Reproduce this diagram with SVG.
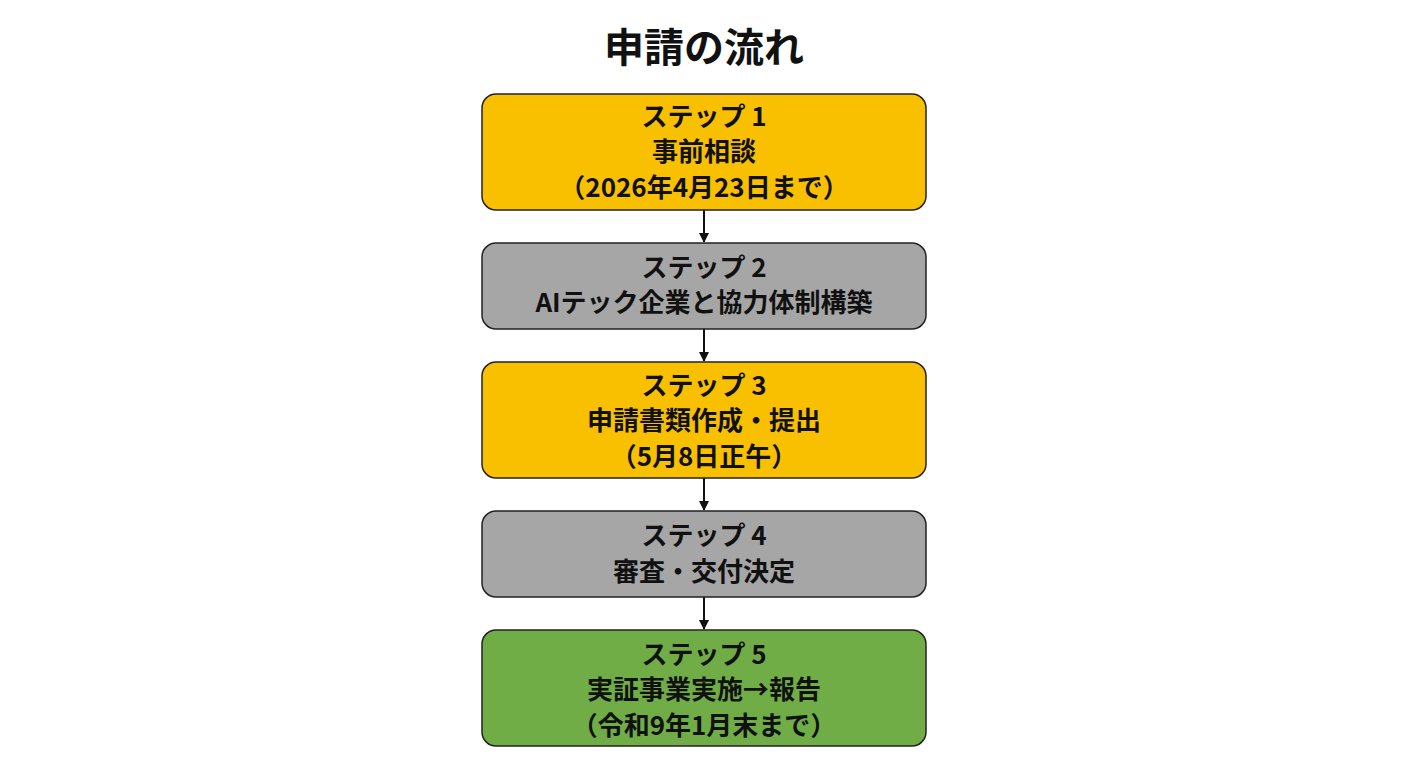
<svg xmlns="http://www.w3.org/2000/svg" width="1408" height="768" viewBox="0 0 1408 768">
<defs>
<marker id="ah" markerWidth="10" markerHeight="10" refX="9" refY="5" orient="auto" markerUnits="userSpaceOnUse"><path d="M0,0 L10,5 L0,10 Z" fill="#111"/></marker>
<style>
text{font-family:"Noto Sans CJK JP","Noto Sans",sans-serif;font-weight:bold;fill:#111;text-anchor:middle}
.t{font-size:26px}
.h{font-size:40px}
rect{stroke:#222;stroke-width:1.5}
.y{fill:#F9C000}.g{fill:#A6A6A6}.gr{fill:#70AD47}
.c{stroke:#111;stroke-width:2;fill:none}
</style>
</defs>
<rect x="0" y="0" width="1408" height="768" fill="#fff" style="stroke:none"/>
<text class="h" x="704" y="62">申請の流れ</text>
<g id="connectors">
<line class="c" x1="704" y1="210" x2="704" y2="242" marker-end="url(#ah)"/>
<line class="c" x1="704" y1="329" x2="704" y2="361" marker-end="url(#ah)"/>
<line class="c" x1="704" y1="478" x2="704" y2="510" marker-end="url(#ah)"/>
<line class="c" x1="704" y1="597" x2="704" y2="629" marker-end="url(#ah)"/>
</g>
<g id="step1"><rect class="y" x="482" y="94" width="444" height="116" rx="14"/>
<text class="t" x="704" y="126">ステップ 1</text><text class="t" x="704" y="161">事前相談</text><text class="t" x="704" y="197">（2026年4月23日まで）</text></g>
<g id="step2"><rect class="g" x="482" y="243" width="444" height="86" rx="14"/>
<text class="t" x="704" y="277">ステップ 2</text><text class="t" x="704" y="312">AIテック企業と協力体制構築</text></g>
<g id="step3"><rect class="y" x="482" y="362" width="444" height="116" rx="14"/>
<text class="t" x="704" y="395">ステップ 3</text><text class="t" x="704" y="430">申請書類作成・提出</text><text class="t" x="704" y="466">（5月8日正午）</text></g>
<g id="step4"><rect class="g" x="482" y="511" width="444" height="86" rx="14"/>
<text class="t" x="704" y="545">ステップ 4</text><text class="t" x="704" y="581">審査・交付決定</text></g>
<g id="step5"><rect class="gr" x="482" y="630" width="444" height="116" rx="14"/>
<text class="t" x="704" y="664">ステップ 5</text><text class="t" x="704" y="699">実証事業実施→報告</text><text class="t" x="704" y="735">（令和9年1月末まで）</text></g>
</svg>
